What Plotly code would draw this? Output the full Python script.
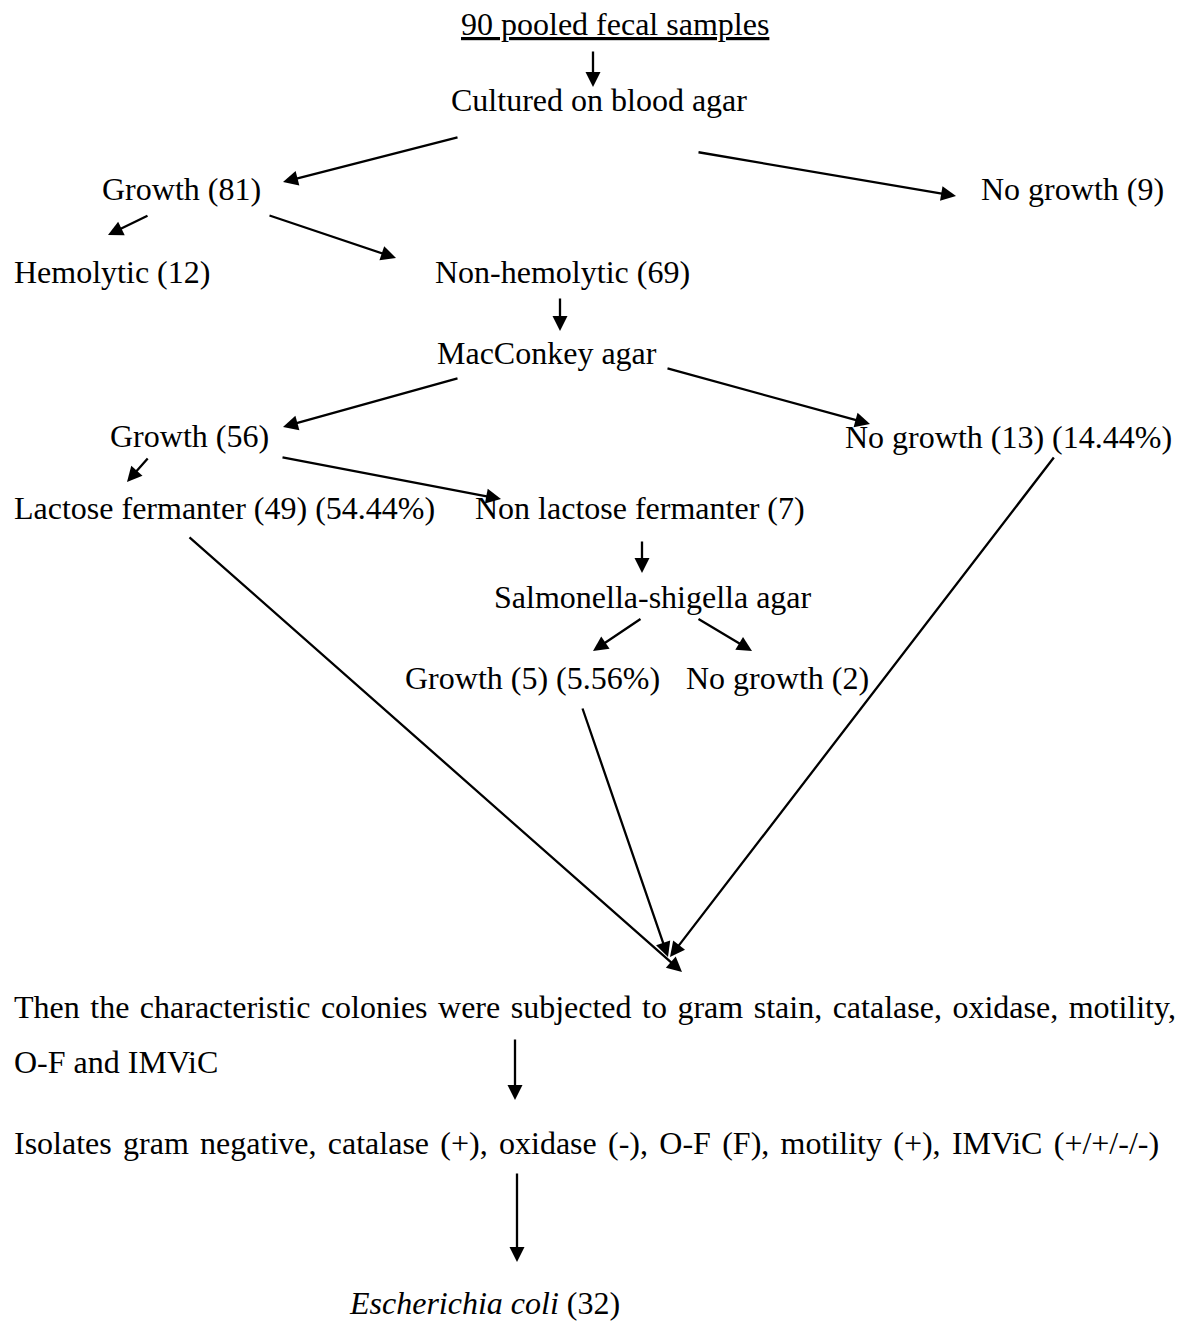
import plotly.graph_objects as go

W, H = 1188, 1322
FONT = "Liberation Serif, Times New Roman, serif"
FS = 32

# ---------------- data ----------------
sample_total = 90
sample_label = "pooled fecal samples"
media = ["Cultured on blood agar", "MacConkey agar", "Salmonella-shigella agar"]
outcome_names = ["Growth", "No growth", "Hemolytic", "Non-hemolytic",
                 "Growth", "No growth", "Lactose fermanter", "Non lactose fermanter",
                 "Growth", "No growth"]
outcome_counts = [81, 9, 12, 69, 56, 13, 49, 7, 5, 2]
outcome_pcts = [None, None, None, None, None, "14.44%", "54.44%", None, "5.56%", None]
test_lines = ["Then the characteristic colonies were subjected to gram stain, catalase, oxidase, motility,",
              "O-F and IMViC"]
isolate_line = "Isolates gram negative, catalase (+), oxidase (-), O-F (F), motility (+), IMViC (+/+/-/-)"
result_species = "Escherichia coli"
result_count = 32

# ---------------- layout positions (left x, centre y) ----------------
sample_pos = (462, 24)
media_pos = [(452, 100), (438, 353), (495, 597)]
outcome_pos = [(103, 189), (982, 189), (15, 272), (436, 272),
               (111, 436), (846, 437), (15, 508), (476, 508),
               (406, 678), (687, 678)]
test_pos = [(15, 1007), (15, 1062)]
test_wordspacing = [2.5, 0]
isolate_pos = (15, 1143)
isolate_wordspacing = 3.3
result_pos = (350, 1303)

# arrows: (tail x, tail y, tip x, tip y)
arrows = [
    (593, 50, 593, 87),
    (459, 137, 283, 182),
    (697, 152, 956, 196),
    (149, 215, 108, 235),
    (268, 215, 396, 258),
    (560, 297, 560, 331),
    (459, 378, 283, 427),
    (666, 368, 870, 424),
    (149, 457, 127, 482),
    (281, 457, 501, 499),
    (642, 540, 642, 573),
    (642, 618, 593, 651),
    (697, 618, 752, 651),
    (188, 536, 682, 972),
    (582, 707, 668, 957),
    (1055, 456, 670, 957),
    (515, 1038, 515, 1100),
    (517, 1172, 517, 1262),
]

fig = go.Figure()
annots = []
XPAD = 3  # annotation inner padding compensation


def txt(x, y, s, ws=0):
    if ws:
        s = f'<span style="word-spacing:{ws}px">{s}</span>'
    annots.append(dict(x=x - XPAD, y=y, xref="x", yref="y", text=s, showarrow=False,
                       xanchor="left", yanchor="middle",
                       font=dict(family=FONT, size=FS, color="#000000")))


txt(*sample_pos, f"<u>{sample_total} {sample_label}</u>")
for (x, y), s in zip(media_pos, media):
    txt(x, y, s)
for (x, y), n, c, p in zip(outcome_pos, outcome_names, outcome_counts, outcome_pcts):
    s = f"{n} ({c})" + (f" ({p})" if p else "")
    txt(x, y, s)
for (x, y), s, ws in zip(test_pos, test_lines, test_wordspacing):
    txt(x, y, s, ws)
txt(*isolate_pos, isolate_line, isolate_wordspacing)
txt(*result_pos, f"<i>{result_species}</i> ({result_count})")

for tx, ty, hx, hy in arrows:
    annots.append(dict(x=hx, y=hy, ax=tx, ay=ty, xref="x", yref="y",
                       axref="x", ayref="y", text="", showarrow=True,
                       arrowhead=2, arrowsize=1.3, arrowwidth=2.3,
                       arrowcolor="#000000", standoff=0, startstandoff=0))

fig.update_layout(
    width=W, height=H,
    margin=dict(l=0, r=0, t=0, b=0),
    paper_bgcolor="white", plot_bgcolor="white",
    xaxis=dict(range=[0, W], visible=False, fixedrange=True),
    yaxis=dict(range=[H, 0], visible=False, fixedrange=True),
    annotations=annots,
    showlegend=False,
)

fig.write_html("out.html", config={"displayModeBar": False},
               post_script="document.body.style.margin='0';")
